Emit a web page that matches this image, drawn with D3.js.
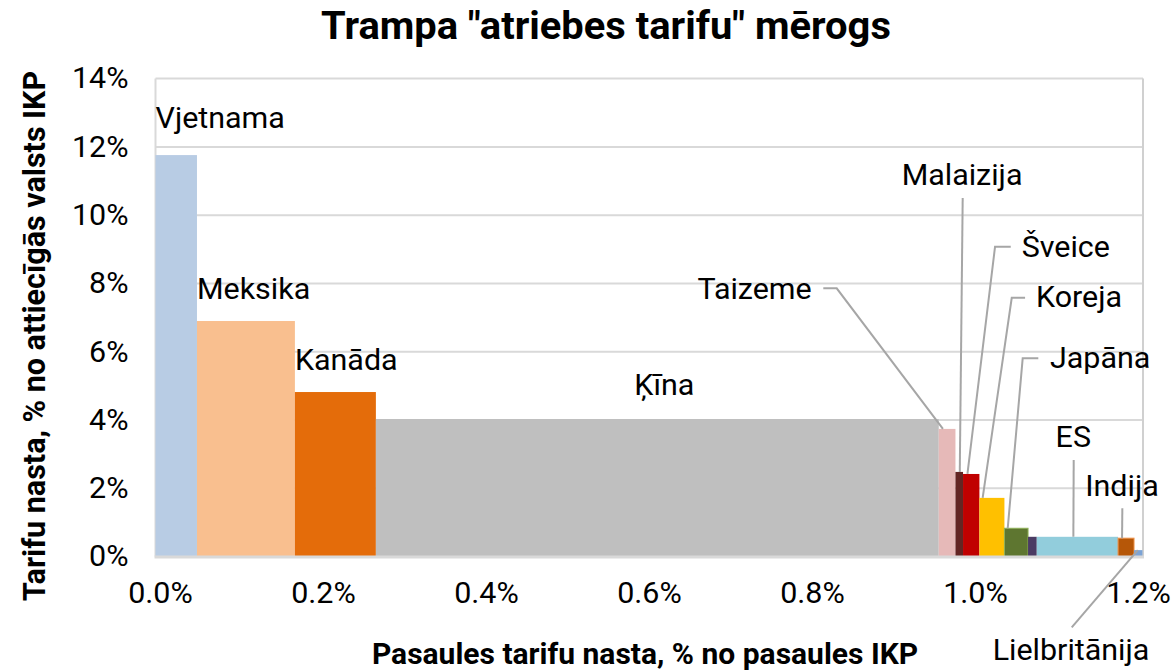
<!DOCTYPE html>
<html><head><meta charset="utf-8">
<script src="https://cdn.jsdelivr.net/npm/d3@7"></script>
<style>body{margin:0;background:#fff;} text{font-family:Roboto, sans-serif;fill:#000;}</style>
</head><body><svg id="c" width="1173" height="671"></svg>
<script>
// ---- data ----
const countries = ["Vjetnama","Meksika","Kanāda","Ķīna","Taizeme","Malaizija","Šveice","Koreja","Japāna","","ES","Indija","Lielbritānija"];
// width: tariff burden as % of world GDP
const worldBurden = [0.0504, 0.119, 0.0984, 0.684, 0.0203, 0.0092, 0.0199, 0.0304, 0.0287, 0.0106, 0.0988, 0.0194, 0.0102];
// height: tariff burden as % of the country's own GDP
const countryBurden = [11.76, 6.9, 4.82, 4.03, 3.74, 2.48, 2.42, 1.72, 0.83, 0.58, 0.58, 0.54, 0.19];
const barColors = ["#B8CCE4","#F9BF8F","#E46C0A","#BFBFBF","#E6B9B8","#632523","#C00000","#FFC000","#5E7630","#4B3B63","#92CDDC","#B65708","#7CA3D5"];
const barStrokes = [null,null,null,null,null,null,null,null,"#8FB058",null,null,"#F0934A",null];
const xTicks = [0, 0.2, 0.4, 0.6, 0.8, 1.0, 1.2];
const yTicks = [0, 2, 4, 6, 8, 10, 12, 14];
const title = 'Trampa "atriebes tarifu" mērogs';
const xTitle = "Pasaules tarifu nasta, % no pasaules IKP";
const yTitle = "Tarifu nasta, % no attiecīgās valsts IKP";

// ---- layout (annotation placement, in data units) ----
const directLabels = {"Vjetnama": 27, "Meksika": 22, "Kanāda": 22, "Ķīna": 24}; // px above bar top
const callouts = [
  {name:"Taizeme", tx:0.7974, ty:7.534, anchor:"end", pts:[[0.8115,7.857],[0.8278,7.857]], f:0.25},
  {name:"Malaizija", tx:0.9801, ty:10.881, anchor:"middle", pts:[[0.9809,10.501]], f:0.57},
  {name:"Šveice", tx:1.0526, ty:8.782, anchor:"start", pts:[[1.0393,9.075],[1.0202,9.075]], f:0.27},
  {name:"Koreja", tx:1.0700, ty:7.318, anchor:"start", pts:[[1.0567,7.581],[1.0405,7.581]], f:0.13},
  {name:"Japāna", tx:1.0870, ty:5.523, anchor:"start", pts:[[1.0728,5.807],[1.0538,5.807]], f:0.14},
  {name:"ES", tx:1.1153, ty:3.201, anchor:"middle", pts:[[1.1158,2.829]], f:0.45},
  {name:"Indija", tx:1.1745, ty:1.783, anchor:"middle", pts:[[1.1749,1.414]], f:0.25},
  {name:"Lielbritānija", tx:1.1125, ty:-3.028, anchor:"middle", pts:[[1.1134,-2.070]], f:0.45}
];
const FS = 29, SX = 1.05; // label font size, horizontal stretch

const svg = d3.select("#c");
const M = {left:155.5, right:1143, top:78.6, bottom:556.6};
const x = d3.scaleLinear().domain([0, 1.2]).range([M.left, M.right]);
const xLab = d3.scaleLinear().domain([0, 1.2]).range([M.left + 4.5, M.right - 5]);
const y = d3.scaleLinear().domain([0, 14]).range([M.bottom, M.top]);

let cum = 0;
const bars = countries.map((c, i) => { const b = {name:c, x0:cum, x1:cum+worldBurden[i], v:countryBurden[i], color:barColors[i], stroke:barStrokes[i]}; cum += worldBurden[i]; return b; });
const byName = {}; bars.forEach(b => { if (b.name) byName[b.name] = b; });

function stretchedText(g, px, py, str, anchor, size, weight, sx) {
  return g.append("text").attr("transform", `translate(${px},${py}) scale(${sx || SX},1)`)
    .attr("text-anchor", anchor).attr("font-size", size).attr("font-weight", weight || "normal").text(str);
}

// gridlines
svg.append("g").selectAll("line").data(yTicks.filter(t => t > 0)).join("line")
  .attr("x1", M.left).attr("x2", M.right).attr("y1", d => y(d)).attr("y2", d => y(d))
  .attr("stroke", "#D9D9D9").attr("stroke-width", 2);
// side borders
svg.append("line").attr("x1", M.left).attr("x2", M.left).attr("y1", M.top).attr("y2", M.bottom).attr("stroke", "#D9D9D9").attr("stroke-width", 2);
svg.append("line").attr("x1", M.right).attr("x2", M.right).attr("y1", M.top).attr("y2", M.bottom).attr("stroke", "#D0D0D0").attr("stroke-width", 2);

// bars
svg.append("g").selectAll("rect").data(bars).join("rect")
  .attr("x", d => x(d.x0)).attr("width", d => x(d.x1) - x(d.x0))
  .attr("y", d => y(d.v)).attr("height", d => y(0) - y(d.v))
  .attr("fill", d => d.color)
  .attr("stroke", d => d.stroke || "none").attr("stroke-width", 1);

// x axis line
svg.append("line").attr("x1", M.left - 1).attr("x2", M.right + 1).attr("y1", y(0) + 0.5).attr("y2", y(0) + 0.5).attr("stroke", "#D9D9D9").attr("stroke-width", 3);

// axes tick labels via d3 axes
const fmtX = d3.format(".1%");
const xAxis = svg.append("g").attr("transform", `translate(0,${M.bottom})`)
  .call(d3.axisBottom(xLab).tickValues(xTicks).tickFormat(d => fmtX(d / 100)).tickSize(0).tickPadding(26));
xAxis.select(".domain").remove();
xAxis.selectAll("text").attr("font-size", FS).attr("fill", "#000").style("font-family", "Roboto")
  .attr("transform", `scale(${SX},1)`);

const yAxis = svg.append("g").attr("transform", `translate(${M.left},0)`)
  .call(d3.axisLeft(y).tickValues(yTicks).tickFormat(d => d + "%").tickSize(0).tickPadding(27));
yAxis.select(".domain").remove();
yAxis.selectAll("text").attr("font-size", FS).attr("fill", "#000").style("font-family", "Roboto")
  .attr("x", -27 / SX).attr("transform", `scale(${SX},1)`);

// direct labels
const gl = svg.append("g");
Object.keys(directLabels).forEach(d => {
  const b = byName[d];
  const px = d === "Ķīna" ? (x(b.x0) + x(b.x1)) / 2 + 7 : x(b.x0);
  stretchedText(gl, px, y(b.v) - directLabels[d], d, d === "Ķīna" ? "middle" : "start", FS);
});

// callouts
const lineGen = d3.line();
callouts.forEach(c => {
  const b = byName[c.name];
  const end = [x(b.x0 + (b.x1 - b.x0) * c.f), y(b.v)];
  const pts = c.pts.map(p => [x(p[0]), y(p[1])]).concat([end]);
  svg.append("path").attr("d", lineGen(pts)).attr("fill", "none").attr("stroke", "#A6A6A6").attr("stroke-width", 2);
  stretchedText(svg, x(c.tx), y(c.ty), c.name, c.anchor, FS);
});

// titles
stretchedText(svg, 606, 39, title, "middle", 38, "bold");
stretchedText(svg, 645, 664, xTitle, "middle", 30, "bold", 1);
svg.append("text").attr("transform", "translate(45,336) rotate(-90)").attr("text-anchor", "middle").attr("font-size", 30.5).attr("font-weight", "bold").text(yTitle);
</script></body></html>
